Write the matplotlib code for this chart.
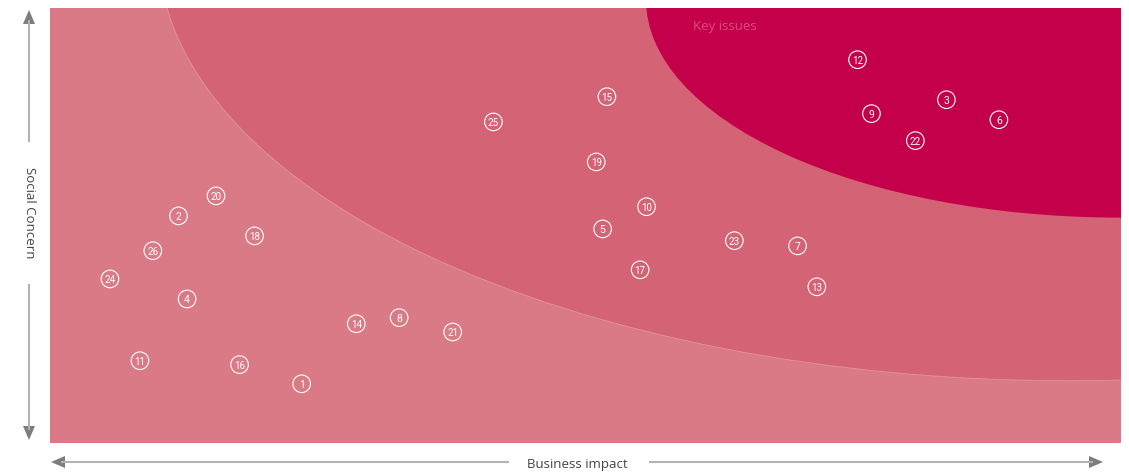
import matplotlib.pyplot as plt
from matplotlib.patches import Ellipse

# Issue numbers and positions (0-10 scale: business impact, social concern)
issues = list(range(1, 27))
business = [2.35, 1.20, 8.37, 1.28, 5.16, 8.86, 6.98, 3.26, 7.67, 5.57,
            0.84, 7.54, 7.16, 2.86, 5.20, 1.77, 5.51, 1.91, 5.10, 1.55,
            3.76, 8.08, 6.39, 0.56, 4.14, 0.96]
social = [1.35, 5.21, 7.88, 3.30, 4.91, 7.42, 4.52, 2.87, 7.56, 5.42,
          1.88, 8.80, 3.58, 2.73, 7.95, 1.79, 3.97, 4.75, 6.45, 5.67,
          2.54, 6.94, 4.64, 3.76, 7.37, 4.41]

zone_colors = ['#db7a87', '#d46375', '#c4004b']

fig = plt.figure(figsize=(11.29, 4.77), dpi=100)
W, H = 1129, 477
ax = fig.add_axes([50 / W, (H - 443.5) / H, 1071 / W, 435 / H])
ax.set_xlim(0, 10)
ax.set_ylim(0, 10)
ax.set_facecolor(zone_colors[0])
for s in ax.spines.values():
    s.set_visible(False)
ax.set_xticks([])
ax.set_yticks([])

# zones
mid = Ellipse((9.52, 11.33), 17.01, 19.82, facecolor=zone_colors[1],
              edgecolor=(1, 1, 1, 0.25), lw=0.6, zorder=1)
key = Ellipse((9.99, 10.18), 8.85, 10.02, facecolor=zone_colors[2],
              edgecolor='none', zorder=2)
ax.add_patch(mid)
ax.add_patch(key)
ax.text(6.00, 9.58, 'Key issues', color='#dc4a82', fontsize=9.5,
        family='Open Sans', va='center', ha='left', zorder=3)

# issue markers
ax.scatter(business, social, s=160, facecolors='none', edgecolors='white',
           linewidths=0.8, zorder=4)
for n, x, y in zip(issues, business, social):
    ax.text(x, y, str(n), color='white', fontsize=7.5 if n < 10 else 7,
            family='Roboto', ha='center', va='center', zorder=5)

# axis arrows drawn in pixel coordinates
ov = fig.add_axes([0, 0, 1, 1], zorder=10)
ov.set_xlim(0, W)
ov.set_ylim(H, 0)
ov.axis('off')
ov.patch.set_visible(False)

line_c = '#b3b3b3'
head_c = '#7d7d7d'
ov.plot([29, 29], [22, 142], color=line_c, lw=1.5)
ov.plot([29, 29], [286, 430], color=line_c, lw=1.5)
ov.plot([62, 508], [463, 463], color=line_c, lw=1.5)
ov.plot([650, 1092], [463, 463], color=line_c, lw=1.5)
ov.fill([29, 23, 35], [11, 25, 25], color=head_c, lw=0)
ov.fill([29, 23, 35], [441, 427, 427], color=head_c, lw=0)
ov.fill([51, 65, 65], [463, 457, 469], color=head_c, lw=0)
ov.fill([1103, 1089, 1089], [463, 457, 469], color=head_c, lw=0)

ov.text(29, 213, 'Social Concern', rotation=-90, ha='center', va='center',
        fontsize=9.5, color='#444444', family='Open Sans')
ov.text(577, 465, 'Business impact', ha='center', va='center',
        fontsize=9.5, color='#444444', family='Open Sans')

fig.savefig('out.png', dpi=100)
